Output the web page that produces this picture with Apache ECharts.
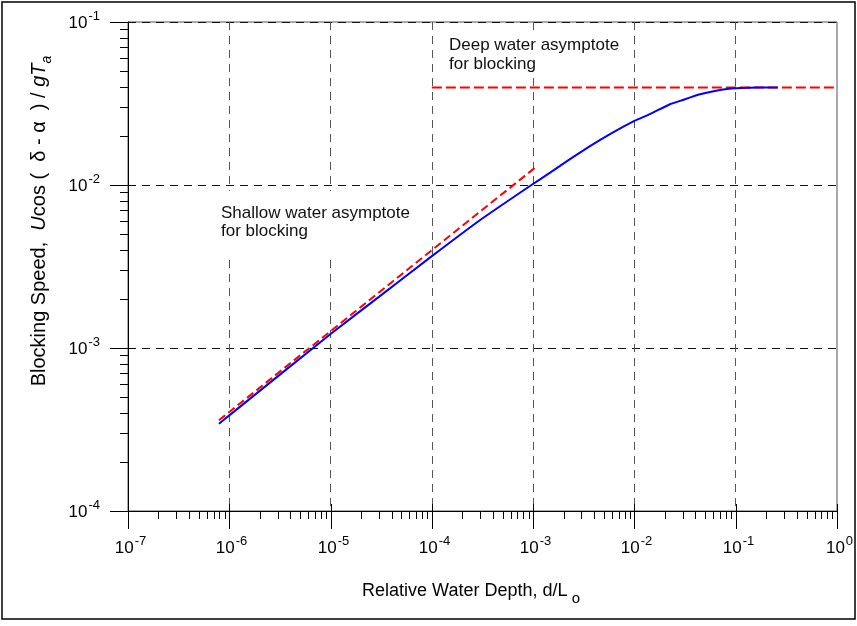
<!DOCTYPE html>
<html>
<head>
<meta charset="utf-8">
<script src="https://cdn.jsdelivr.net/npm/echarts@6/dist/echarts.min.js"></script>
<style>html,body{margin:0;padding:0;background:#fff}#c{width:857px;height:626px}</style>
</head>
<body>
<div id="c"></div>
<script>
// ---- data ----
const xDecades = [-7, -6, -5, -4, -3, -2, -1, 0];
const yDecades = [-4, -3, -2, -1];
const blueDepth = [7.9e-7, 1e-6, 1e-5, 3e-5, 1e-4, 3e-4, 9.3e-4, 1.47e-3, 2.31e-3, 3.64e-3, 5.74e-3, 1.01e-2, 1.42e-2, 2.24e-2, 2.82e-2, 4.44e-2, 7.0e-2, 0.102, 0.16, 0.26];
const blueSpeed = [3.43e-4, 3.86e-4, 1.22e-3, 2.06e-3, 3.66e-3, 6.1e-3, 9.86e-3, 1.19e-2, 1.44e-2, 1.73e-2, 2.05e-2, 2.48e-2, 2.72e-2, 3.13e-2, 3.28e-2, 3.60e-2, 3.83e-2, 3.92e-2, 3.96e-2, 3.97e-2];
const shallowDepth = [7.9e-7, 1.1e-3];
const shallowSpeed = [3.6e-4, 1.31e-2];
const deepDepth = [1e-4, 1];
const deepSpeed = [0.0397, 0.0397];

const FONT = '"Liberation Sans", Arial, Helvetica, sans-serif';
const zip = (a, b) => a.map((v, i) => [v, b[i]]);

const chart = echarts.init(document.getElementById('c'), null, {renderer: 'canvas'});

const labelRich = {
  b: {fontSize: 17, fontFamily: FONT, fill: '#000', lineHeight: 22, verticalAlign: 'bottom'},
  s: {fontSize: 13, fontFamily: FONT, fill: '#000', lineHeight: 22, verticalAlign: 'top', padding: [0, 0, 6, 1]}
};
const expText = e => '{b|10}{s|' + e + '}';

function renderTicks(params, api) {
  if (params.dataIndex !== 0) return;
  const children = [];
  const x0 = api.coord([1e-7, 1e-4]);
  const xl = x0[0], yb = x0[1];
  const st = {stroke: '#000', lineWidth: 1};
  const line = (a, b, c, d) => children.push({type: 'line', shape: {x1: a, y1: b, x2: c, y2: d}, style: st});
  const label = (x, y, e, align) => children.push({type: 'text', x: x, y: y,
    style: {text: expText(e), rich: labelRich, align: align, verticalAlign: 'middle'}});
  xDecades.forEach(e => {
    const px = Math.round(api.coord([Math.pow(10, e), 1e-4])[0]) + 0.5;
    line(px, yb - 7, px, yb + 18);
    label(px + 2, yb + 35, e, 'center');
    if (e < 0) {
      for (let m = 2; m <= 9; m++) {
        const p = Math.round(api.coord([m * Math.pow(10, e), 1e-4])[0]) + 0.5;
        line(p, yb, p, yb + 8);
      }
    }
  });
  yDecades.forEach(e => {
    const py = Math.round(api.coord([1e-7, Math.pow(10, e)])[1]) + 0.5;
    line(xl - 18, py, e === -1 ? xl : xl + 7, py);
    label(xl - 28, py - 2, e, 'right');
    if (e < -1) {
      for (let m = 2; m <= 9; m++) {
        const p = Math.round(api.coord([1e-7, m * Math.pow(10, e)])[1]) + 0.5;
        line(xl - 8, p, xl, p);
      }
    }
  });
  return {type: 'group', children: children};
}

const option = {
  backgroundColor: '#fff',
  animation: false,
  textStyle: {fontFamily: FONT},
  grid: {left: 128, right: 20, top: 22, bottom: 115, show: true, borderColor: '#555', borderWidth: 1, backgroundColor: 'transparent'},
  xAxis: {
    type: 'log', logBase: 10, min: 1e-7, max: 1, interval: 1,
    axisLine: {show: true, lineStyle: {color: '#000', width: 1}},
    axisTick: {show: false},
    minorTick: {show: false},
    axisLabel: {show: false},
    splitLine: {show: true, showMinLine: false, showMaxLine: false, lineStyle: {color: '#555', type: [8, 6], width: 1}}
  },
  yAxis: {
    type: 'log', logBase: 10, min: 1e-4, max: 1e-1, interval: 1,
    axisLine: {show: true, lineStyle: {color: '#000', width: 1}},
    axisTick: {show: false},
    minorTick: {show: false},
    axisLabel: {show: false},
    splitLine: {show: true, showMinLine: false, showMaxLine: false, lineStyle: {color: '#111', type: [8, 6], width: 1}}
  },
  series: [
    {type: 'custom', renderItem: renderTicks, data: [[1e-7, 1e-4]], clip: false, silent: true, z: 5},
    {type: 'line', data: zip(deepDepth, deepSpeed), showSymbol: false, lineStyle: {color: '#ff0000', width: 2, type: [10, 4]}, z: 3},
    {type: 'line', data: zip(shallowDepth, shallowSpeed), showSymbol: false, lineStyle: {color: '#ff0000', width: 2, type: [8, 4]}, z: 3},
    {type: 'line', data: zip(blueDepth, blueSpeed), showSymbol: false, smooth: 0.15, lineStyle: {color: '#0000ff', width: 2}, z: 4}
  ],
  graphic: [
    {type: 'rect', z: 100, shape: {x: 2, y: 2, width: 853, height: 617}, style: {fill: 'none', stroke: '#000', lineWidth: 1.5}},
    {type: 'rect', z: 1, shape: {x: 214, y: 191, width: 206, height: 64}, style: {fill: '#fff'}},
    {type: 'rect', z: 1, shape: {x: 444, y: 36, width: 186, height: 38}, style: {fill: '#fff'}},
    {type: 'text', z: 10, left: 221, top: 204, style: {text: 'Shallow water asymptote\nfor blocking', font: '17px ' + FONT, fill: '#111', lineHeight: 18}},
    {type: 'text', z: 10, left: 449, top: 36, style: {text: 'Deep water asymptote\nfor blocking', font: '17px ' + FONT, fill: '#111', lineHeight: 19}},
    {type: 'text', z: 10, x: 471, y: 589, style: {
      text: '{n|Relative Water Depth, d/L}{sub| o}', align: 'center', verticalAlign: 'middle',
      rich: {n: {fontSize: 18, fontFamily: FONT, fill: '#000', lineHeight: 22, verticalAlign: 'bottom'},
             sub: {fontSize: 15, fontFamily: FONT, fill: '#000', lineHeight: 22, verticalAlign: 'bottom', padding: [0, 0, -6, 0]}}}},
    {type: 'text', z: 10, x: 37, y: 221, rotation: Math.PI / 2, style: {
      text: '{n|Blocking Speed,  }{i|U}{n|cos (  δ - α  ) / }{i|gT}{sub|a}', align: 'center', verticalAlign: 'middle',
      rich: {n: {fontSize: 20, fontFamily: FONT, fill: '#000', lineHeight: 24, verticalAlign: 'bottom'},
             i: {fontSize: 20, fontFamily: FONT, fontStyle: 'italic', fill: '#000', lineHeight: 24, verticalAlign: 'bottom'},
             sub: {fontSize: 14, fontFamily: FONT, fontStyle: 'italic', fill: '#000', lineHeight: 24, verticalAlign: 'bottom', padding: [0, 0, -5, 0]}}}}
  ]
};
chart.setOption(option);
</script>
</body>
</html>
